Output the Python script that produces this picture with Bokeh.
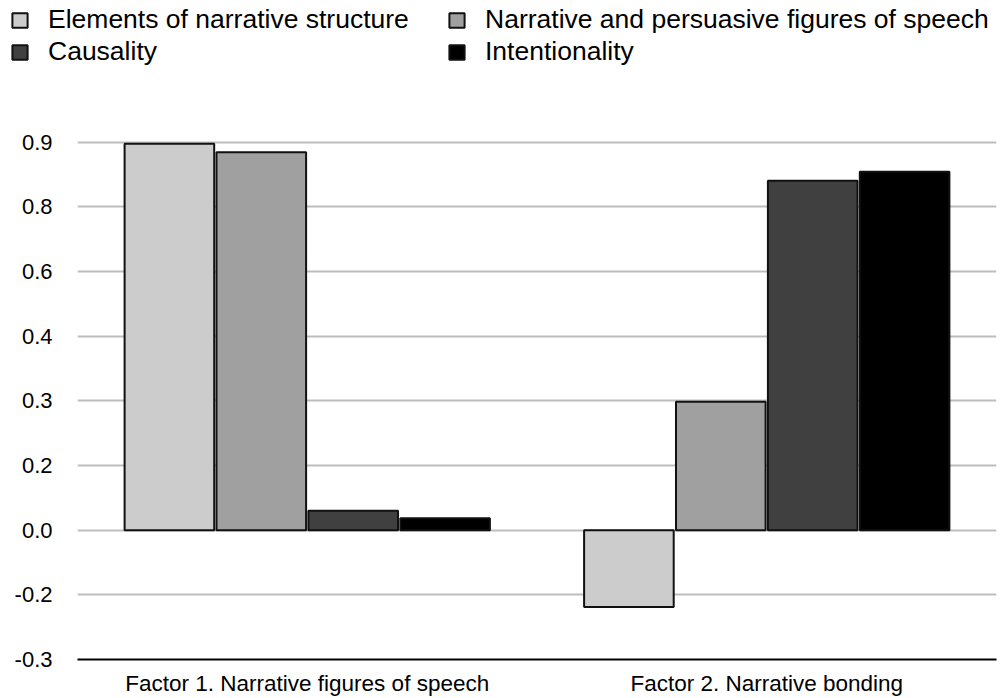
from bokeh.plotting import figure
from bokeh.models import (FactorRange, Range1d, Legend, LegendItem, FixedTicker,
                          ColumnDataSource, BoxAnnotation)
from bokeh.transform import dodge
from bokeh.embed import file_html
from bokeh.resources import INLINE

factors = ["Factor 1. Narrative figures of speech", "Factor 2. Narrative bonding"]
series = ["Elements of narrative structure", "Narrative and persuasive figures of speech",
          "Causality", "Intentionality"]
elements = [0.897, -0.178]
narrative = [0.877, 0.298]
causality = [0.045, 0.811]
intentionality = [0.028, 0.832]
tick_values = [-0.3, -0.15, 0.0, 0.15, 0.3, 0.45, 0.6, 0.75, 0.9]
tick_labels = ["-0.3", "-0.2", "0.0", "0.2", "0.3", "0.4", "0.6", "0.8", "0.9"]

colors = ["#cccccc", "#a0a0a0", "#404040", "#000000"]
offsets = [-0.3, -0.1, 0.1, 0.3]
keys = ["s0", "s1", "s2", "s3"]
FONT = "Liberation Sans"
LEG_H = 66

source = ColumnDataSource(dict(factor=factors, s0=elements, s1=narrative,
                               s2=causality, s3=intentionality))

p = figure(width=1004, height=698 - LEG_H, x_range=FactorRange(*factors),
           y_range=Range1d(-0.3, 1.076), output_backend="svg", toolbar_location=None,
           min_border_left=77, min_border_right=8, min_border_top=0, min_border_bottom=20)
p.outline_line_color = None

for i, key in enumerate(keys):
    p.vbar(x=dodge("factor", offsets[i], range=p.x_range), top=key, bottom=0,
           width=0.195, source=source, fill_color=colors[i], line_color="#111111",
           line_width=2)

# axes
p.yaxis.ticker = FixedTicker(ticks=tick_values)
p.yaxis.major_label_overrides = {v: l for v, l in zip(tick_values, tick_labels)}
p.yaxis.axis_line_color = None
p.yaxis.major_tick_line_color = None
p.yaxis.minor_tick_line_color = None
p.yaxis.major_tick_out = 0
p.yaxis.major_tick_in = 0
p.yaxis.minor_tick_out = 0
p.yaxis.major_label_standoff = 25
p.yaxis.major_label_text_font = FONT
p.yaxis.major_label_text_font_size = "22px"
p.yaxis.major_label_text_color = "black"

p.xaxis.axis_line_color = "black"
p.xaxis.axis_line_width = 2
p.xaxis.major_tick_line_color = None
p.xaxis.minor_tick_line_color = None
p.xaxis.major_tick_out = 0
p.xaxis.major_tick_in = 0
p.xaxis.minor_tick_out = 0
p.xaxis.major_label_standoff = 11
p.xaxis.major_label_text_font = FONT
p.xaxis.major_label_text_font_size = "22.5px"
p.xaxis.major_label_text_color = "black"

p.xgrid.grid_line_color = None
p.ygrid.ticker = FixedTicker(ticks=tick_values)
p.ygrid.grid_line_color = "#bdbdbd"
p.ygrid.grid_line_width = 2

# legend strip: same bars, covered by a white box; only the legend shows on top
lf = figure(width=1004, height=LEG_H, output_backend="svg", toolbar_location=None,
            x_axis_location=None, y_axis_location=None, min_border=0,
            x_range=FactorRange(*factors), y_range=Range1d(-0.3, 1.076))
lf.outline_line_color = None
lf.grid.grid_line_color = None
leg_renderers = [lf.vbar(x=dodge("factor", offsets[i], range=lf.x_range), top=key, bottom=0,
                         width=0.195, source=source, fill_color=colors[i],
                         line_color="#111111", line_width=2)
                 for i, key in enumerate(keys)]
lf.add_layout(BoxAnnotation(fill_color="white", fill_alpha=1.0, line_alpha=0))
legend = Legend(items=[LegendItem(label=s, renderers=[r]) for s, r in zip(series, leg_renderers)],
                orientation="horizontal", ncols=2, location=(10, -1),
                label_text_font=FONT, label_text_font_size="26.5px", label_text_color="black",
                glyph_width=19, glyph_height=18, label_standoff=19, spacing=1,
                label_width=398,
                padding=0, margin=0, border_line_color=None, background_fill_alpha=0)
lf.add_layout(legend, "center")

open("out.html", "w").write(file_html((lf, p), INLINE))
